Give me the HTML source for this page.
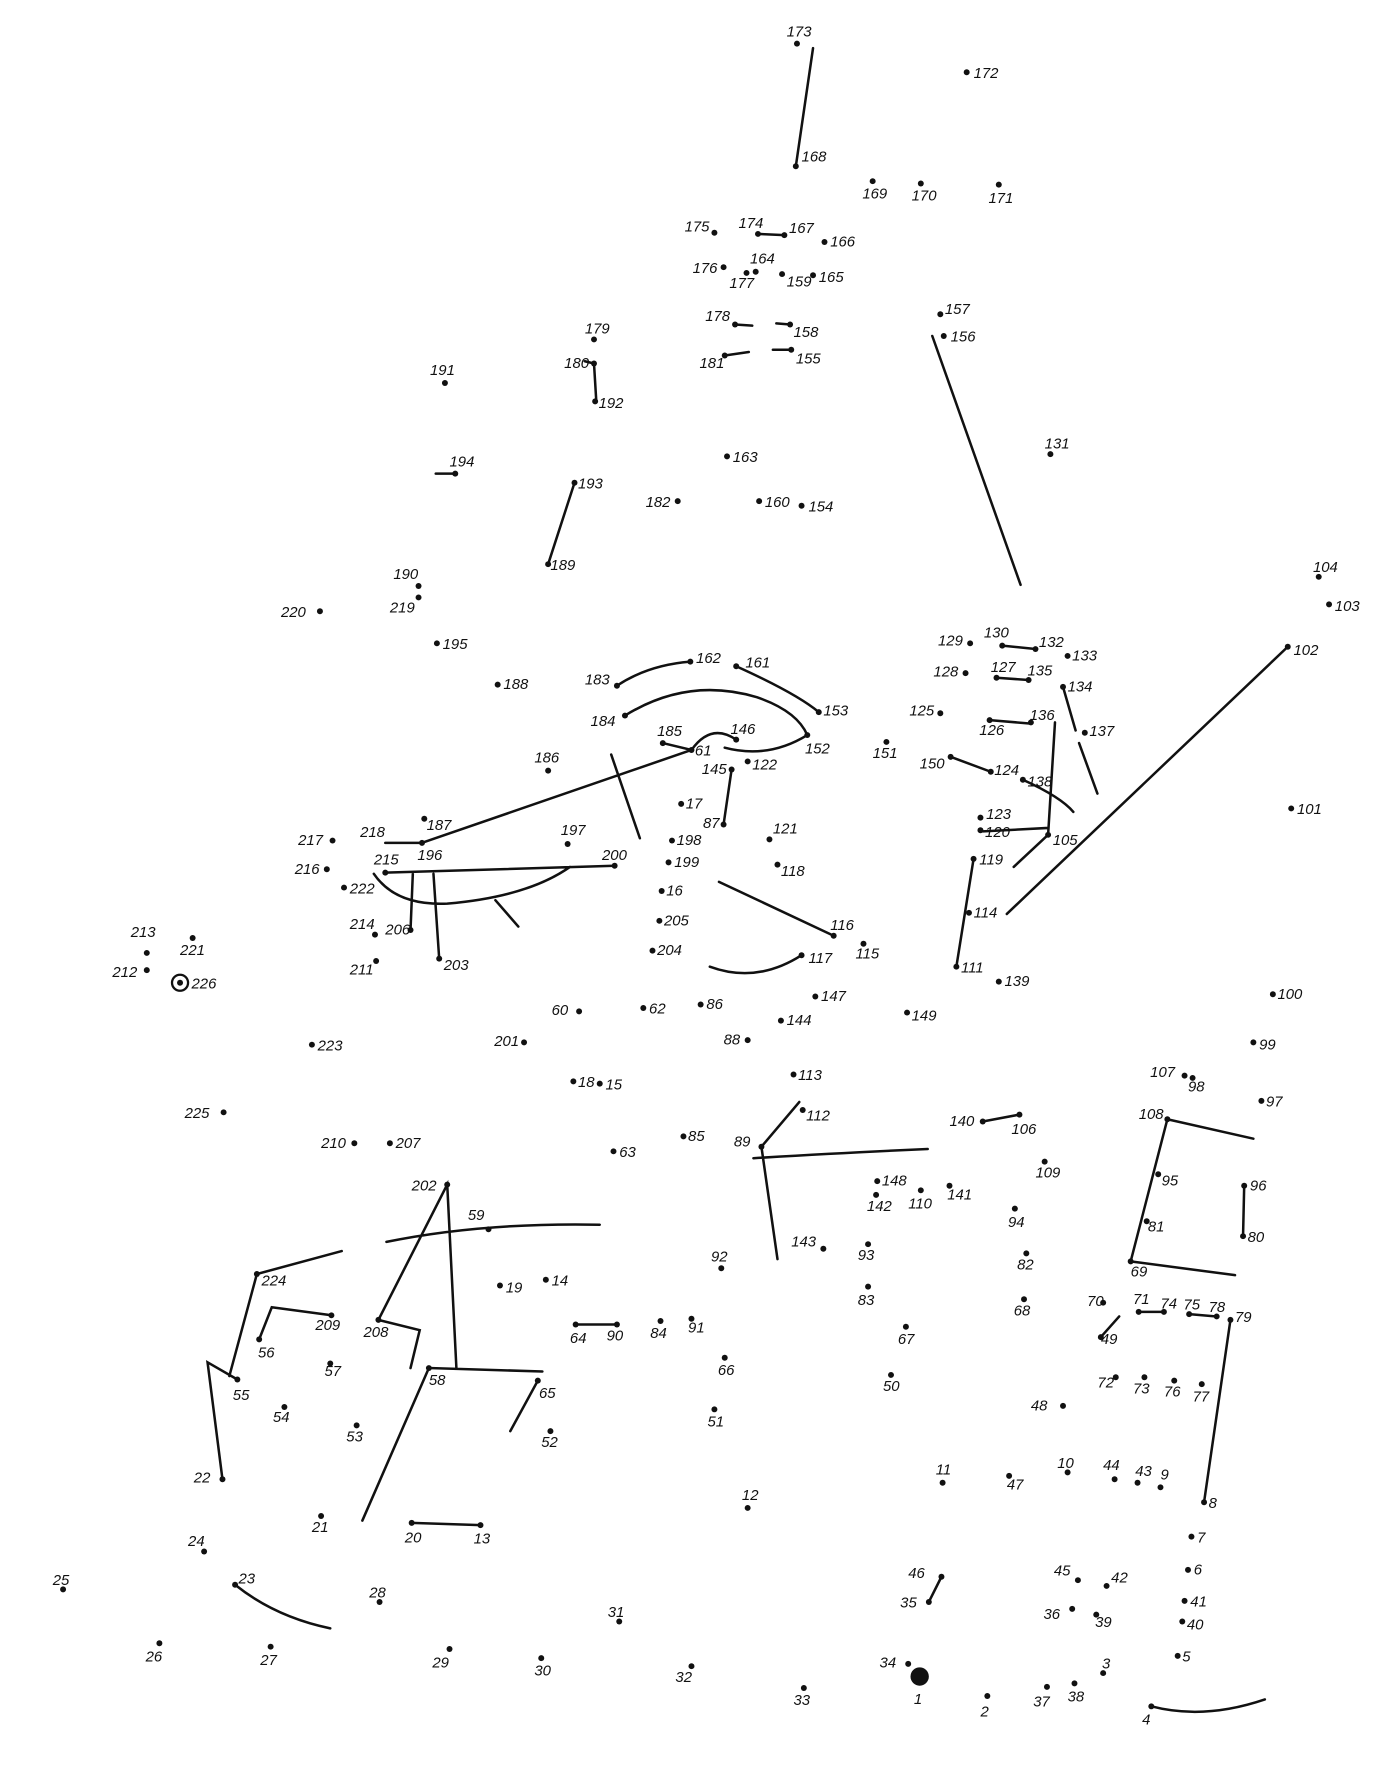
<!DOCTYPE html>
<html><head><meta charset="utf-8"><style>
html,body{margin:0;padding:0;background:#fff}
svg{display:block}
text{font-family:"Liberation Sans",sans-serif;font-size:13px;font-style:italic;fill:#111}
circle{fill:#111}
.l{stroke:#111;stroke-width:2.2;fill:none;stroke-linecap:round}
</style></head><body>
<svg width="1399" height="1792" viewBox="0 0 1220 1562.7" xmlns="http://www.w3.org/2000/svg">
<g class="l">
<path d="M709 42L694 145M661 204L684 205M641 283L656 284M677 282L689 283M632 310L653 307M674 305L690 305M510 315L518 317L520 350M380 413L397 413M501 421L478 492M813 293L890 510M1123 564L878 797M874 563L903 566M869 591L897 593M863 628L899 631M927 599L938 637M941 648L957 692M829 660L864 673M920 630L914 728L884 756M857 725L914 722M849 749L834 843"/>
<path d="M538 598Q565 580 602 577M642 581Q695 605 714 621M545 624Q600 590 660 608Q695 620 704 641M704 641Q670 662 632 652M578 648L603 654Q620 630 642 645M603 654L368 735M336 735L368 735M638 671L631 719M533 658L558 731"/>
<path d="M892 680Q925 695 936 708M336 761L536 755M326 762Q345 790 390 788Q460 782 497 756M432 785L452 808M378 762L383 836M360 762L358 811M627 769L727 816M619 843Q660 858 699 833"/>
<path d="M697 961L664 1000L678 1098M657 1010Q740 1005 809 1002M857 978L889 972M1093 993L1018 976L986 1100L1077 1112M1085 1034L1084 1078M337 1083Q420 1066 523 1068M330 1151L390 1033L398 1193M330 1151L366 1160L358 1193M473 1196L374 1193L316 1326M298 1091L224 1111L200 1200M207 1203L181 1188L194 1290M289 1147L237 1140L226 1168M469 1204L445 1248M502 1155L538 1155M359 1328L419 1330M205 1382Q240 1410 288 1420M821 1375L810 1397M1004 1488Q1050 1500 1103 1482M976 1148L960 1166M993 1144L1015 1144M1037 1146L1061 1148M1073 1151L1050 1310"/>
</g>
<g>
<circle cx="695" cy="38" r="2.6"/><text x="686" y="32">173</text>
<circle cx="843" cy="63" r="2.6"/><text x="849" y="68">172</text>
<circle cx="694" cy="145" r="2.6"/><text x="699" y="141">168</text>
<circle cx="761" cy="158" r="2.6"/><text x="752" y="173">169</text>
<circle cx="803" cy="160" r="2.6"/><text x="795" y="175">170</text>
<circle cx="871" cy="161" r="2.6"/><text x="862" y="177">171</text>
<circle cx="623" cy="203" r="2.6"/><text x="597" y="202">175</text>
<circle cx="661" cy="204" r="2.6"/><text x="644" y="199">174</text>
<circle cx="684" cy="205" r="2.6"/><text x="688" y="203">167</text>
<circle cx="719" cy="211" r="2.6"/><text x="724" y="215">166</text>
<circle cx="631" cy="233" r="2.6"/><text x="604" y="238">176</text>
<circle cx="659" cy="237" r="2.6"/><text x="654" y="230">164</text>
<circle cx="651" cy="238" r="2.6"/><text x="636" y="251">177</text>
<circle cx="682" cy="239" r="2.6"/><text x="686" y="250">159</text>
<circle cx="709" cy="240" r="2.6"/><text x="714" y="246">165</text>
<circle cx="641" cy="283" r="2.6"/><text x="615" y="280">178</text>
<circle cx="689" cy="283" r="2.6"/><text x="692" y="294">158</text>
<circle cx="632" cy="310" r="2.6"/><text x="610" y="321">181</text>
<circle cx="690" cy="305" r="2.6"/><text x="694" y="317">155</text>
<circle cx="820" cy="274" r="2.6"/><text x="824" y="274">157</text>
<circle cx="823" cy="293" r="2.6"/><text x="829" y="298">156</text>
<circle cx="518" cy="296" r="2.6"/><text x="510" y="291">179</text>
<circle cx="518" cy="317" r="2.6"/><text x="492" y="321">180</text>
<circle cx="519" cy="350" r="2.6"/><text x="522" y="356">192</text>
<circle cx="388" cy="334" r="2.6"/><text x="375" y="327">191</text>
<circle cx="397" cy="413" r="2.6"/><text x="392" y="407">194</text>
<circle cx="501" cy="421" r="2.6"/><text x="504" y="426">193</text>
<circle cx="478" cy="492" r="2.6"/><text x="480" y="497">189</text>
<circle cx="634" cy="398" r="2.6"/><text x="639" y="403">163</text>
<circle cx="591" cy="437" r="2.6"/><text x="563" y="442">182</text>
<circle cx="662" cy="437" r="2.6"/><text x="667" y="442">160</text>
<circle cx="699" cy="441" r="2.6"/><text x="705" y="446">154</text>
<circle cx="916" cy="396" r="2.6"/><text x="911" y="391">131</text>
<circle cx="1150" cy="503" r="2.6"/><text x="1145" y="499">104</text>
<circle cx="1159" cy="527" r="2.6"/><text x="1164" y="533">103</text>
<circle cx="1123" cy="564" r="2.6"/><text x="1128" y="571">102</text>
<circle cx="365" cy="511" r="2.6"/><text x="343" y="505">190</text>
<circle cx="365" cy="521" r="2.6"/><text x="340" y="534">219</text>
<circle cx="279" cy="533" r="2.6"/><text x="245" y="538">220</text>
<circle cx="381" cy="561" r="2.6"/><text x="386" y="566">195</text>
<circle cx="434" cy="597" r="2.6"/><text x="439" y="601">188</text>
<circle cx="538" cy="598" r="2.6"/><text x="510" y="597">183</text>
<circle cx="602" cy="577" r="2.6"/><text x="607" y="578">162</text>
<circle cx="642" cy="581" r="2.6"/><text x="650" y="582">161</text>
<circle cx="714" cy="621" r="2.6"/><text x="718" y="624">153</text>
<circle cx="545" cy="624" r="2.6"/><text x="515" y="633">184</text>
<circle cx="578" cy="648" r="2.6"/><text x="573" y="642">185</text>
<circle cx="642" cy="645" r="2.6"/><text x="637" y="640">146</text>
<circle cx="704" cy="641" r="2.6"/><text x="702" y="657">152</text>
<circle cx="603" cy="654" r="2.6"/><text x="606" y="659">61</text>
<circle cx="638" cy="671" r="2.6"/><text x="612" y="675">145</text>
<circle cx="652" cy="664" r="2.6"/><text x="656" y="671">122</text>
<circle cx="478" cy="672" r="2.6"/><text x="466" y="665">186</text>
<circle cx="773" cy="647" r="2.6"/><text x="761" y="661">151</text>
<circle cx="820" cy="622" r="2.6"/><text x="793" y="624">125</text>
<circle cx="863" cy="628" r="2.6"/><text x="854" y="641">126</text>
<circle cx="899" cy="630" r="2.6"/><text x="898" y="628">136</text>
<circle cx="946" cy="639" r="2.6"/><text x="950" y="642">137</text>
<circle cx="829" cy="660" r="2.6"/><text x="802" y="670">150</text>
<circle cx="864" cy="673" r="2.6"/><text x="867" y="676">124</text>
<circle cx="892" cy="680" r="2.6"/><text x="896" y="686">138</text>
<circle cx="846" cy="561" r="2.6"/><text x="818" y="563">129</text>
<circle cx="874" cy="563" r="2.6"/><text x="858" y="556">130</text>
<circle cx="903" cy="566" r="2.6"/><text x="906" y="564">132</text>
<circle cx="931" cy="572" r="2.6"/><text x="935" y="576">133</text>
<circle cx="842" cy="587" r="2.6"/><text x="814" y="590">128</text>
<circle cx="869" cy="591" r="2.6"/><text x="864" y="586">127</text>
<circle cx="897" cy="593" r="2.6"/><text x="896" y="589">135</text>
<circle cx="927" cy="599" r="2.6"/><text x="931" y="603">134</text>
<circle cx="855" cy="713" r="2.6"/><text x="860" y="714">123</text>
<circle cx="855" cy="724" r="2.6"/><text x="859" y="730">120</text>
<circle cx="914" cy="728" r="2.6"/><text x="918" y="737">105</text>
<circle cx="849" cy="749" r="2.6"/><text x="854" y="754">119</text>
<circle cx="845" cy="796" r="2.6"/><text x="849" y="800">114</text>
<circle cx="834" cy="843" r="2.6"/><text x="838" y="848">111</text>
<circle cx="871" cy="856" r="2.6"/><text x="876" y="860">139</text>
<circle cx="1126" cy="705" r="2.6"/><text x="1131" y="710">101</text>
<circle cx="1110" cy="867" r="2.6"/><text x="1114" y="871">100</text>
<circle cx="1093" cy="909" r="2.6"/><text x="1098" y="915">99</text>
<circle cx="1033" cy="938" r="2.6"/><text x="1003" y="939">107</text>
<circle cx="1040" cy="940" r="2.6"/><text x="1036" y="952">98</text>
<circle cx="1100" cy="960" r="2.6"/><text x="1104" y="965">97</text>
<circle cx="1018" cy="976" r="2.6"/><text x="993" y="976">108</text>
<circle cx="1085" cy="1034" r="2.6"/><text x="1090" y="1038">96</text>
<circle cx="1010" cy="1024" r="2.6"/><text x="1013" y="1034">95</text>
<circle cx="1000" cy="1065" r="2.6"/><text x="1001" y="1074">81</text>
<circle cx="1084" cy="1078" r="2.6"/><text x="1088" y="1083">80</text>
<circle cx="986" cy="1100" r="2.6"/><text x="986" y="1113">69</text>
<circle cx="631" cy="719" r="2.6"/><text x="613" y="722">87</text>
<circle cx="594" cy="701" r="2.6"/><text x="598" y="705">17</text>
<circle cx="586" cy="733" r="2.6"/><text x="590" y="737">198</text>
<circle cx="583" cy="752" r="2.6"/><text x="588" y="756">199</text>
<circle cx="577" cy="777" r="2.6"/><text x="581" y="781">16</text>
<circle cx="575" cy="803" r="2.6"/><text x="579" y="807">205</text>
<circle cx="569" cy="829" r="2.6"/><text x="573" y="833">204</text>
<circle cx="671" cy="732" r="2.6"/><text x="674" y="727">121</text>
<circle cx="678" cy="754" r="2.6"/><text x="681" y="764">118</text>
<circle cx="727" cy="816" r="2.6"/><text x="724" y="811">116</text>
<circle cx="699" cy="833" r="2.6"/><text x="705" y="840">117</text>
<circle cx="753" cy="823" r="2.6"/><text x="746" y="836">115</text>
<circle cx="711" cy="869" r="2.6"/><text x="716" y="873">147</text>
<circle cx="681" cy="890" r="2.6"/><text x="686" y="894">144</text>
<circle cx="791" cy="883" r="2.6"/><text x="795" y="890">149</text>
<circle cx="611" cy="876" r="2.6"/><text x="616" y="880">86</text>
<circle cx="561" cy="879" r="2.6"/><text x="566" y="884">62</text>
<circle cx="505" cy="882" r="2.6"/><text x="481" y="885">60</text>
<circle cx="652" cy="907" r="2.6"/><text x="631" y="911">88</text>
<circle cx="457" cy="909" r="2.6"/><text x="431" y="912">201</text>
<circle cx="692" cy="937" r="2.6"/><text x="696" y="942">113</text>
<circle cx="700" cy="968" r="2.6"/><text x="703" y="977">112</text>
<circle cx="500" cy="943" r="2.6"/><text x="504" y="948">18</text>
<circle cx="523" cy="945" r="2.6"/><text x="528" y="950">15</text>
<circle cx="535" cy="1004" r="2.6"/><text x="540" y="1009">63</text>
<circle cx="596" cy="991" r="2.6"/><text x="600" y="995">85</text>
<circle cx="664" cy="1000" r="2.6"/><text x="640" y="1000">89</text>
<circle cx="368" cy="735" r="2.6"/><text x="314" y="730">218</text>
<circle cx="370" cy="714" r="2.6"/><text x="372" y="724">187</text>
<circle cx="290" cy="733" r="2.6"/><text x="260" y="737">217</text>
<text x="364" y="750">196</text>
<circle cx="336" cy="761" r="2.6"/><text x="326" y="754">215</text>
<circle cx="536" cy="755" r="2.6"/><text x="525" y="750">200</text>
<circle cx="495" cy="736" r="2.6"/><text x="489" y="728">197</text>
<circle cx="285" cy="758" r="2.6"/><text x="257" y="762">216</text>
<circle cx="300" cy="774" r="2.6"/><text x="305" y="779">222</text>
<circle cx="327" cy="815" r="2.6"/><text x="305" y="810">214</text>
<circle cx="358" cy="811" r="2.6"/><text x="336" y="815">206</text>
<circle cx="383" cy="836" r="2.6"/><text x="387" y="846">203</text>
<circle cx="328" cy="838" r="2.6"/><text x="305" y="850">211</text>
<circle cx="128" cy="831" r="2.6"/><text x="114" y="817">213</text>
<circle cx="168" cy="818" r="2.6"/><text x="157" y="833">221</text>
<circle cx="128" cy="846" r="2.6"/><text x="98" y="852">212</text>
<circle cx="157" cy="857" r="7" style="fill:none;stroke:#111;stroke-width:2"/><circle cx="157" cy="857" r="2.6"/><text x="167" y="862">226</text>
<circle cx="272" cy="911" r="2.6"/><text x="277" y="916">223</text>
<circle cx="195" cy="970" r="2.6"/><text x="161" y="975">225</text>
<circle cx="309" cy="997" r="2.6"/><text x="280" y="1001">210</text>
<circle cx="340" cy="997" r="2.6"/><text x="345" y="1001">207</text>
<circle cx="390" cy="1033" r="2.6"/><text x="359" y="1038">202</text>
<circle cx="426" cy="1072" r="2.6"/><text x="408" y="1064">59</text>
<circle cx="224" cy="1111" r="2.6"/><text x="228" y="1121">224</text>
<circle cx="436" cy="1121" r="2.6"/><text x="441" y="1127">19</text>
<circle cx="476" cy="1116" r="2.6"/><text x="481" y="1121">14</text>
<circle cx="289" cy="1147" r="2.6"/><text x="275" y="1160">209</text>
<circle cx="330" cy="1151" r="2.6"/><text x="317" y="1166">208</text>
<circle cx="226" cy="1168" r="2.6"/><text x="225" y="1184">56</text>
<circle cx="288" cy="1189" r="2.6"/><text x="283" y="1200">57</text>
<circle cx="374" cy="1193" r="2.6"/><text x="374" y="1208">58</text>
<circle cx="207" cy="1203" r="2.6"/><text x="203" y="1221">55</text>
<circle cx="248" cy="1227" r="2.6"/><text x="238" y="1240">54</text>
<circle cx="469" cy="1204" r="2.6"/><text x="470" y="1219">65</text>
<circle cx="311" cy="1243" r="2.6"/><text x="302" y="1257">53</text>
<circle cx="480" cy="1248" r="2.6"/><text x="472" y="1262">52</text>
<circle cx="194" cy="1290" r="2.6"/><text x="169" y="1293">22</text>
<circle cx="280" cy="1322" r="2.6"/><text x="272" y="1336">21</text>
<circle cx="359" cy="1328" r="2.6"/><text x="353" y="1345">20</text>
<circle cx="419" cy="1330" r="2.6"/><text x="413" y="1346">13</text>
<circle cx="178" cy="1353" r="2.6"/><text x="164" y="1348">24</text>
<circle cx="205" cy="1382" r="2.6"/><text x="208" y="1381">23</text>
<circle cx="55" cy="1386" r="2.6"/><text x="46" y="1382">25</text>
<circle cx="331" cy="1397" r="2.6"/><text x="322" y="1393">28</text>
<circle cx="540" cy="1414" r="2.6"/><text x="530" y="1410">31</text>
<circle cx="139" cy="1433" r="2.6"/><text x="127" y="1449">26</text>
<circle cx="236" cy="1436" r="2.6"/><text x="227" y="1452">27</text>
<circle cx="392" cy="1438" r="2.6"/><text x="377" y="1454">29</text>
<circle cx="472" cy="1446" r="2.6"/><text x="466" y="1461">30</text>
<circle cx="603" cy="1453" r="2.6"/><text x="589" y="1467">32</text>
<circle cx="701" cy="1472" r="2.6"/><text x="692" y="1487">33</text>
<circle cx="792" cy="1451" r="2.6"/><text x="767" y="1454">34</text>
<circle cx="802" cy="1462" r="8"/><text x="797" y="1486">1</text>
<circle cx="861" cy="1479" r="2.6"/><text x="855" y="1497">2</text>
<circle cx="913" cy="1471" r="2.6"/><text x="901" y="1488">37</text>
<circle cx="937" cy="1468" r="2.6"/><text x="931" y="1484">38</text>
<circle cx="962" cy="1459" r="2.6"/><text x="961" y="1455">3</text>
<circle cx="1004" cy="1488" r="2.6"/><text x="996" y="1504">4</text>
<circle cx="1027" cy="1444" r="2.6"/><text x="1031" y="1449">5</text>
<circle cx="1031" cy="1414" r="2.6"/><text x="1035" y="1421">40</text>
<circle cx="1033" cy="1396" r="2.6"/><text x="1038" y="1401">41</text>
<circle cx="1036" cy="1369" r="2.6"/><text x="1041" y="1373">6</text>
<circle cx="1039" cy="1340" r="2.6"/><text x="1044" y="1345">7</text>
<circle cx="1050" cy="1310" r="2.6"/><text x="1054" y="1315">8</text>
<circle cx="935" cy="1403" r="2.6"/><text x="910" y="1412">36</text>
<circle cx="956" cy="1408" r="2.6"/><text x="955" y="1419">39</text>
<circle cx="940" cy="1378" r="2.6"/><text x="919" y="1374">45</text>
<circle cx="965" cy="1383" r="2.6"/><text x="969" y="1380">42</text>
<circle cx="821" cy="1375" r="2.6"/><text x="792" y="1376">46</text>
<circle cx="810" cy="1397" r="2.6"/><text x="785" y="1402">35</text>
<circle cx="822" cy="1293" r="2.6"/><text x="816" y="1286">11</text>
<circle cx="880" cy="1287" r="2.6"/><text x="878" y="1299">47</text>
<circle cx="931" cy="1284" r="2.6"/><text x="922" y="1280">10</text>
<circle cx="972" cy="1290" r="2.6"/><text x="962" y="1282">44</text>
<circle cx="992" cy="1293" r="2.6"/><text x="990" y="1287">43</text>
<circle cx="1012" cy="1297" r="2.6"/><text x="1012" y="1290">9</text>
<circle cx="652" cy="1315" r="2.6"/><text x="647" y="1308">12</text>
<circle cx="927" cy="1226" r="2.6"/><text x="899" y="1230">48</text>
<circle cx="973" cy="1201" r="2.6"/><text x="957" y="1210">72</text>
<circle cx="998" cy="1201" r="2.6"/><text x="988" y="1215">73</text>
<circle cx="1024" cy="1204" r="2.6"/><text x="1015" y="1218">76</text>
<circle cx="1048" cy="1207" r="2.6"/><text x="1040" y="1222">77</text>
<circle cx="962" cy="1136" r="2.6"/><text x="948" y="1139">70</text>
<circle cx="960" cy="1166" r="2.6"/><text x="960" y="1172">49</text>
<circle cx="993" cy="1144" r="2.6"/><text x="988" y="1137">71</text>
<circle cx="1015" cy="1144" r="2.6"/><text x="1012" y="1141">74</text>
<circle cx="1037" cy="1146" r="2.6"/><text x="1032" y="1142">75</text>
<circle cx="1061" cy="1148" r="2.6"/><text x="1054" y="1144">78</text>
<circle cx="1073" cy="1151" r="2.6"/><text x="1077" y="1153">79</text>
<circle cx="893" cy="1133" r="2.6"/><text x="884" y="1147">68</text>
<circle cx="895" cy="1093" r="2.6"/><text x="887" y="1107">82</text>
<circle cx="885" cy="1054" r="2.6"/><text x="879" y="1070">94</text>
<circle cx="911" cy="1013" r="2.6"/><text x="903" y="1027">109</text>
<circle cx="889" cy="972" r="2.6"/><text x="882" y="989">106</text>
<circle cx="857" cy="978" r="2.6"/><text x="828" y="982">140</text>
<circle cx="765" cy="1030" r="2.6"/><text x="769" y="1034">148</text>
<circle cx="764" cy="1042" r="2.6"/><text x="756" y="1056">142</text>
<circle cx="803" cy="1038" r="2.6"/><text x="792" y="1054">110</text>
<circle cx="828" cy="1034" r="2.6"/><text x="826" y="1046">141</text>
<circle cx="757" cy="1085" r="2.6"/><text x="748" y="1099">93</text>
<circle cx="718" cy="1089" r="2.6"/><text x="690" y="1087">143</text>
<circle cx="757" cy="1122" r="2.6"/><text x="748" y="1138">83</text>
<circle cx="790" cy="1157" r="2.6"/><text x="783" y="1172">67</text>
<circle cx="777" cy="1199" r="2.6"/><text x="770" y="1213">50</text>
<circle cx="629" cy="1106" r="2.6"/><text x="620" y="1100">92</text>
<circle cx="603" cy="1150" r="2.6"/><text x="600" y="1162">91</text>
<circle cx="576" cy="1152" r="2.6"/><text x="567" y="1167">84</text>
<circle cx="502" cy="1155" r="2.6"/><text x="497" y="1171">64</text>
<circle cx="538" cy="1155" r="2.6"/><text x="529" y="1169">90</text>
<circle cx="632" cy="1184" r="2.6"/><text x="626" y="1199">66</text>
<circle cx="623" cy="1229" r="2.6"/><text x="617" y="1244">51</text>
</g>
</svg>
</body></html>
